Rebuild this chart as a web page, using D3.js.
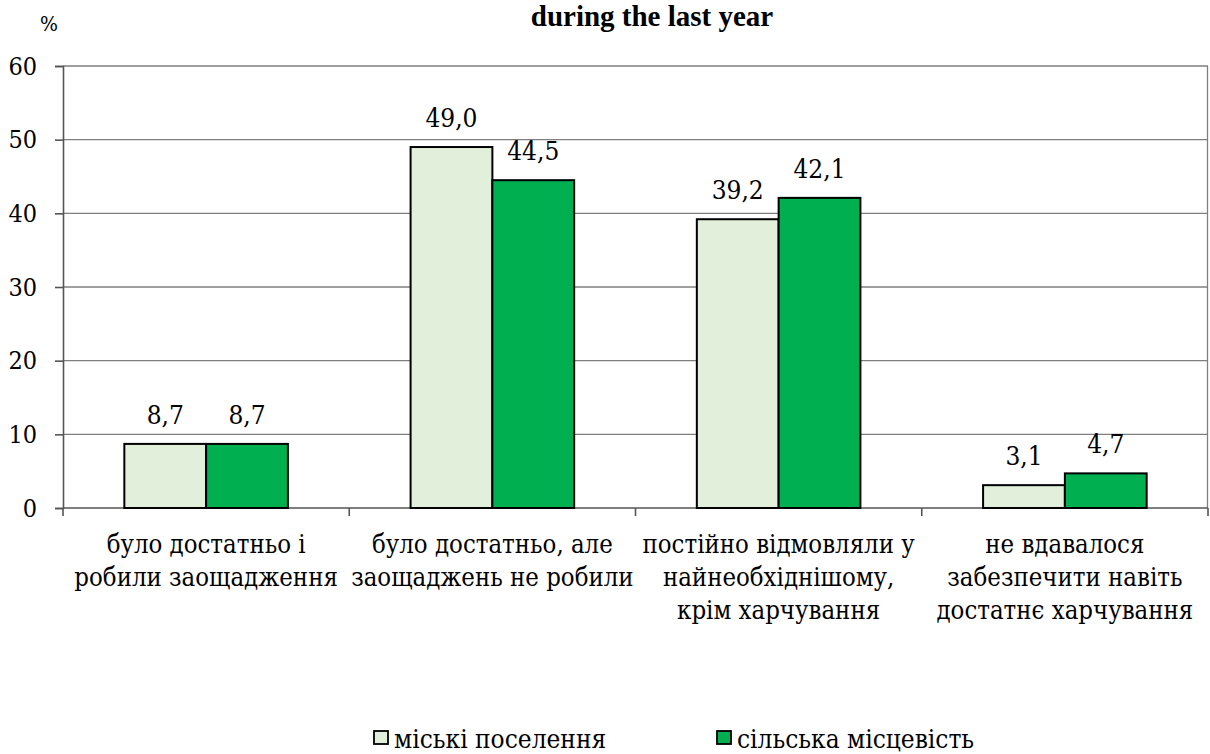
<!DOCTYPE html>
<html>
<head>
<meta charset="utf-8">
<script src="https://cdn.jsdelivr.net/npm/d3@7"></script>
<style>
  body { margin: 0; background: #fff; }
</style>
</head>
<body>
<div class="canvas"></div>
<script>
// data
const categories = [
  ['було достатньо і', 'робили заощадження'],
  ['було достатньо, але', 'заощаджень не робили'],
  ['постійно відмовляли у', 'найнеобхіднішому,', 'крім харчування'],
  ['не вдавалося', 'забезпечити навіть', 'достатнє харчування']
];
const seriesNames = ['міські поселення', 'сільська місцевість'];
const urban = [8.7, 49.0, 39.2, 3.1];
const rural = [8.7, 44.5, 42.1, 4.7];
const yTicks = [0, 10, 20, 30, 40, 50, 60];
const colors = ['#E2EFDA', '#00B050'];

const regularFont = '"DejaVu Serif Condensed", "DejaVu Serif", serif';

// apply the serif face on each text node
const serifText = (sel, size, weight, fam) => sel
  .style('font-family', fam || regularFont)
  .style('font-weight', weight || 'normal')
  .attr('font-size', size)
  .attr('fill', '#000');

const svg = d3.select('.canvas')
  .append('svg')
  .attr('width', 1210)
  .attr('height', 754);

const margin = { top: 66, right: 2, bottom: 246, left: 63 };
const graphWidth = 1210 - margin.left - margin.right;
const graphHeight = 754 - margin.top - margin.bottom;

const graph = svg.append('g')
  .attr('transform', `translate(${margin.left}, ${margin.top})`);

const x = d3.scaleBand()
  .domain(d3.range(categories.length))
  .range([0, graphWidth]);

// two bars per group, gap of 150% of one bar
const barW = x.bandwidth() / 3.5;
const x1 = d3.scaleBand()
  .domain([0, 1])
  .range([barW * 0.75, barW * 2.75]);

const y = d3.scaleLinear()
  .domain([0, 60])
  .range([graphHeight, 0]);

// gridlines
graph.append('g')
  .selectAll('line')
  .data(yTicks.slice(1))
  .enter().append('line')
  .attr('x1', 0).attr('x2', graphWidth)
  .attr('y1', d => y(d)).attr('y2', d => y(d))
  .attr('stroke', '#7f7f7f')
  .attr('stroke-width', 1.3);

// right border
graph.append('line')
  .attr('x1', graphWidth - 0.5).attr('x2', graphWidth - 0.5)
  .attr('y1', 0).attr('y2', graphHeight)
  .attr('stroke', '#7f7f7f')
  .attr('stroke-width', 1.3);

// y axis
const yAxis = d3.axisLeft(y).tickValues(yTicks).tickSize(8).tickPadding(18);
const yAxisGroup = graph.append('g').call(yAxis)
  .attr('font-family', null)
  .attr('font-size', null);
yAxisGroup.selectAll('text').call(serifText, 25);
yAxisGroup.selectAll('line, path').attr('stroke', '#555').attr('stroke-width', 1.6);

// x axis (ticks at band boundaries)
const xAxisGroup = graph.append('g')
  .attr('transform', `translate(0, ${graphHeight})`);
xAxisGroup.append('line')
  .attr('x1', 0).attr('x2', graphWidth)
  .attr('stroke', '#555').attr('stroke-width', 1.6);
xAxisGroup.selectAll('.tk')
  .data(d3.range(categories.length + 1))
  .enter().append('line')
  .attr('class', 'tk')
  .attr('x1', d => d * x.step()).attr('x2', d => d * x.step())
  .attr('y1', 0).attr('y2', 8)
  .attr('stroke', '#555').attr('stroke-width', 1.6);

// category labels
const catLabels = xAxisGroup.selectAll('.cat')
  .data(categories)
  .enter().append('text')
  .attr('class', 'cat')
  .attr('text-anchor', 'middle')
  .call(serifText, 25.5)
  .attr('transform', (d, i) => `translate(${x(i) + x.bandwidth() / 2}, 45)`);
catLabels.selectAll('tspan')
  .data(d => d)
  .enter().append('tspan')
  .attr('x', 0)
  .attr('y', (d, i) => i * 33)
  .text(d => d);

// bars
const series = [urban, rural];
series.forEach((vals, s) => {
  graph.selectAll('.bar' + s)
    .data(vals)
    .enter().append('rect')
    .attr('class', 'bar' + s)
    .attr('x', (d, i) => x(i) + x1(s))
    .attr('width', x1.bandwidth())
    .attr('y', d => y(d))
    .attr('height', d => graphHeight - y(d))
    .attr('fill', colors[s])
    .attr('stroke', '#000')
    .attr('stroke-width', 2);

  graph.selectAll('.lbl' + s)
    .data(vals)
    .enter().append('text')
    .attr('class', 'lbl' + s)
    .attr('text-anchor', 'middle')
    .call(serifText, 26)
    .attr('x', (d, i) => x(i) + x1(s) + x1.bandwidth() / 2)
    .attr('y', d => y(d) - 20)
    .text(d => d.toFixed(1).replace('.', ','));
});

// title and unit
svg.append('text')
  .attr('x', 652).attr('y', 26)
  .attr('text-anchor', 'middle')
  .call(serifText, 29, 'bold', '"Liberation Serif", serif')
  .text('during the last year');

svg.append('text')
  .attr('x', 40).attr('y', 31)
  .call(serifText, 21)
  .text('%');

// legend
const legend = svg.append('g')
  .attr('transform', 'translate(374, 731)');
const legendStep = [0, 343];
seriesNames.forEach((name, s) => {
  const g = legend.append('g').attr('transform', `translate(${legendStep[s]}, 0)`);
  g.append('rect')
    .attr('width', 14).attr('height', 13)
    .attr('fill', colors[s])
    .attr('stroke', '#000')
    .attr('stroke-width', 1.8);
  g.append('text')
    .attr('x', 20).attr('y', 17)
    .call(serifText, 26)
    .text(name);
});
</script>
</body>
</html>
